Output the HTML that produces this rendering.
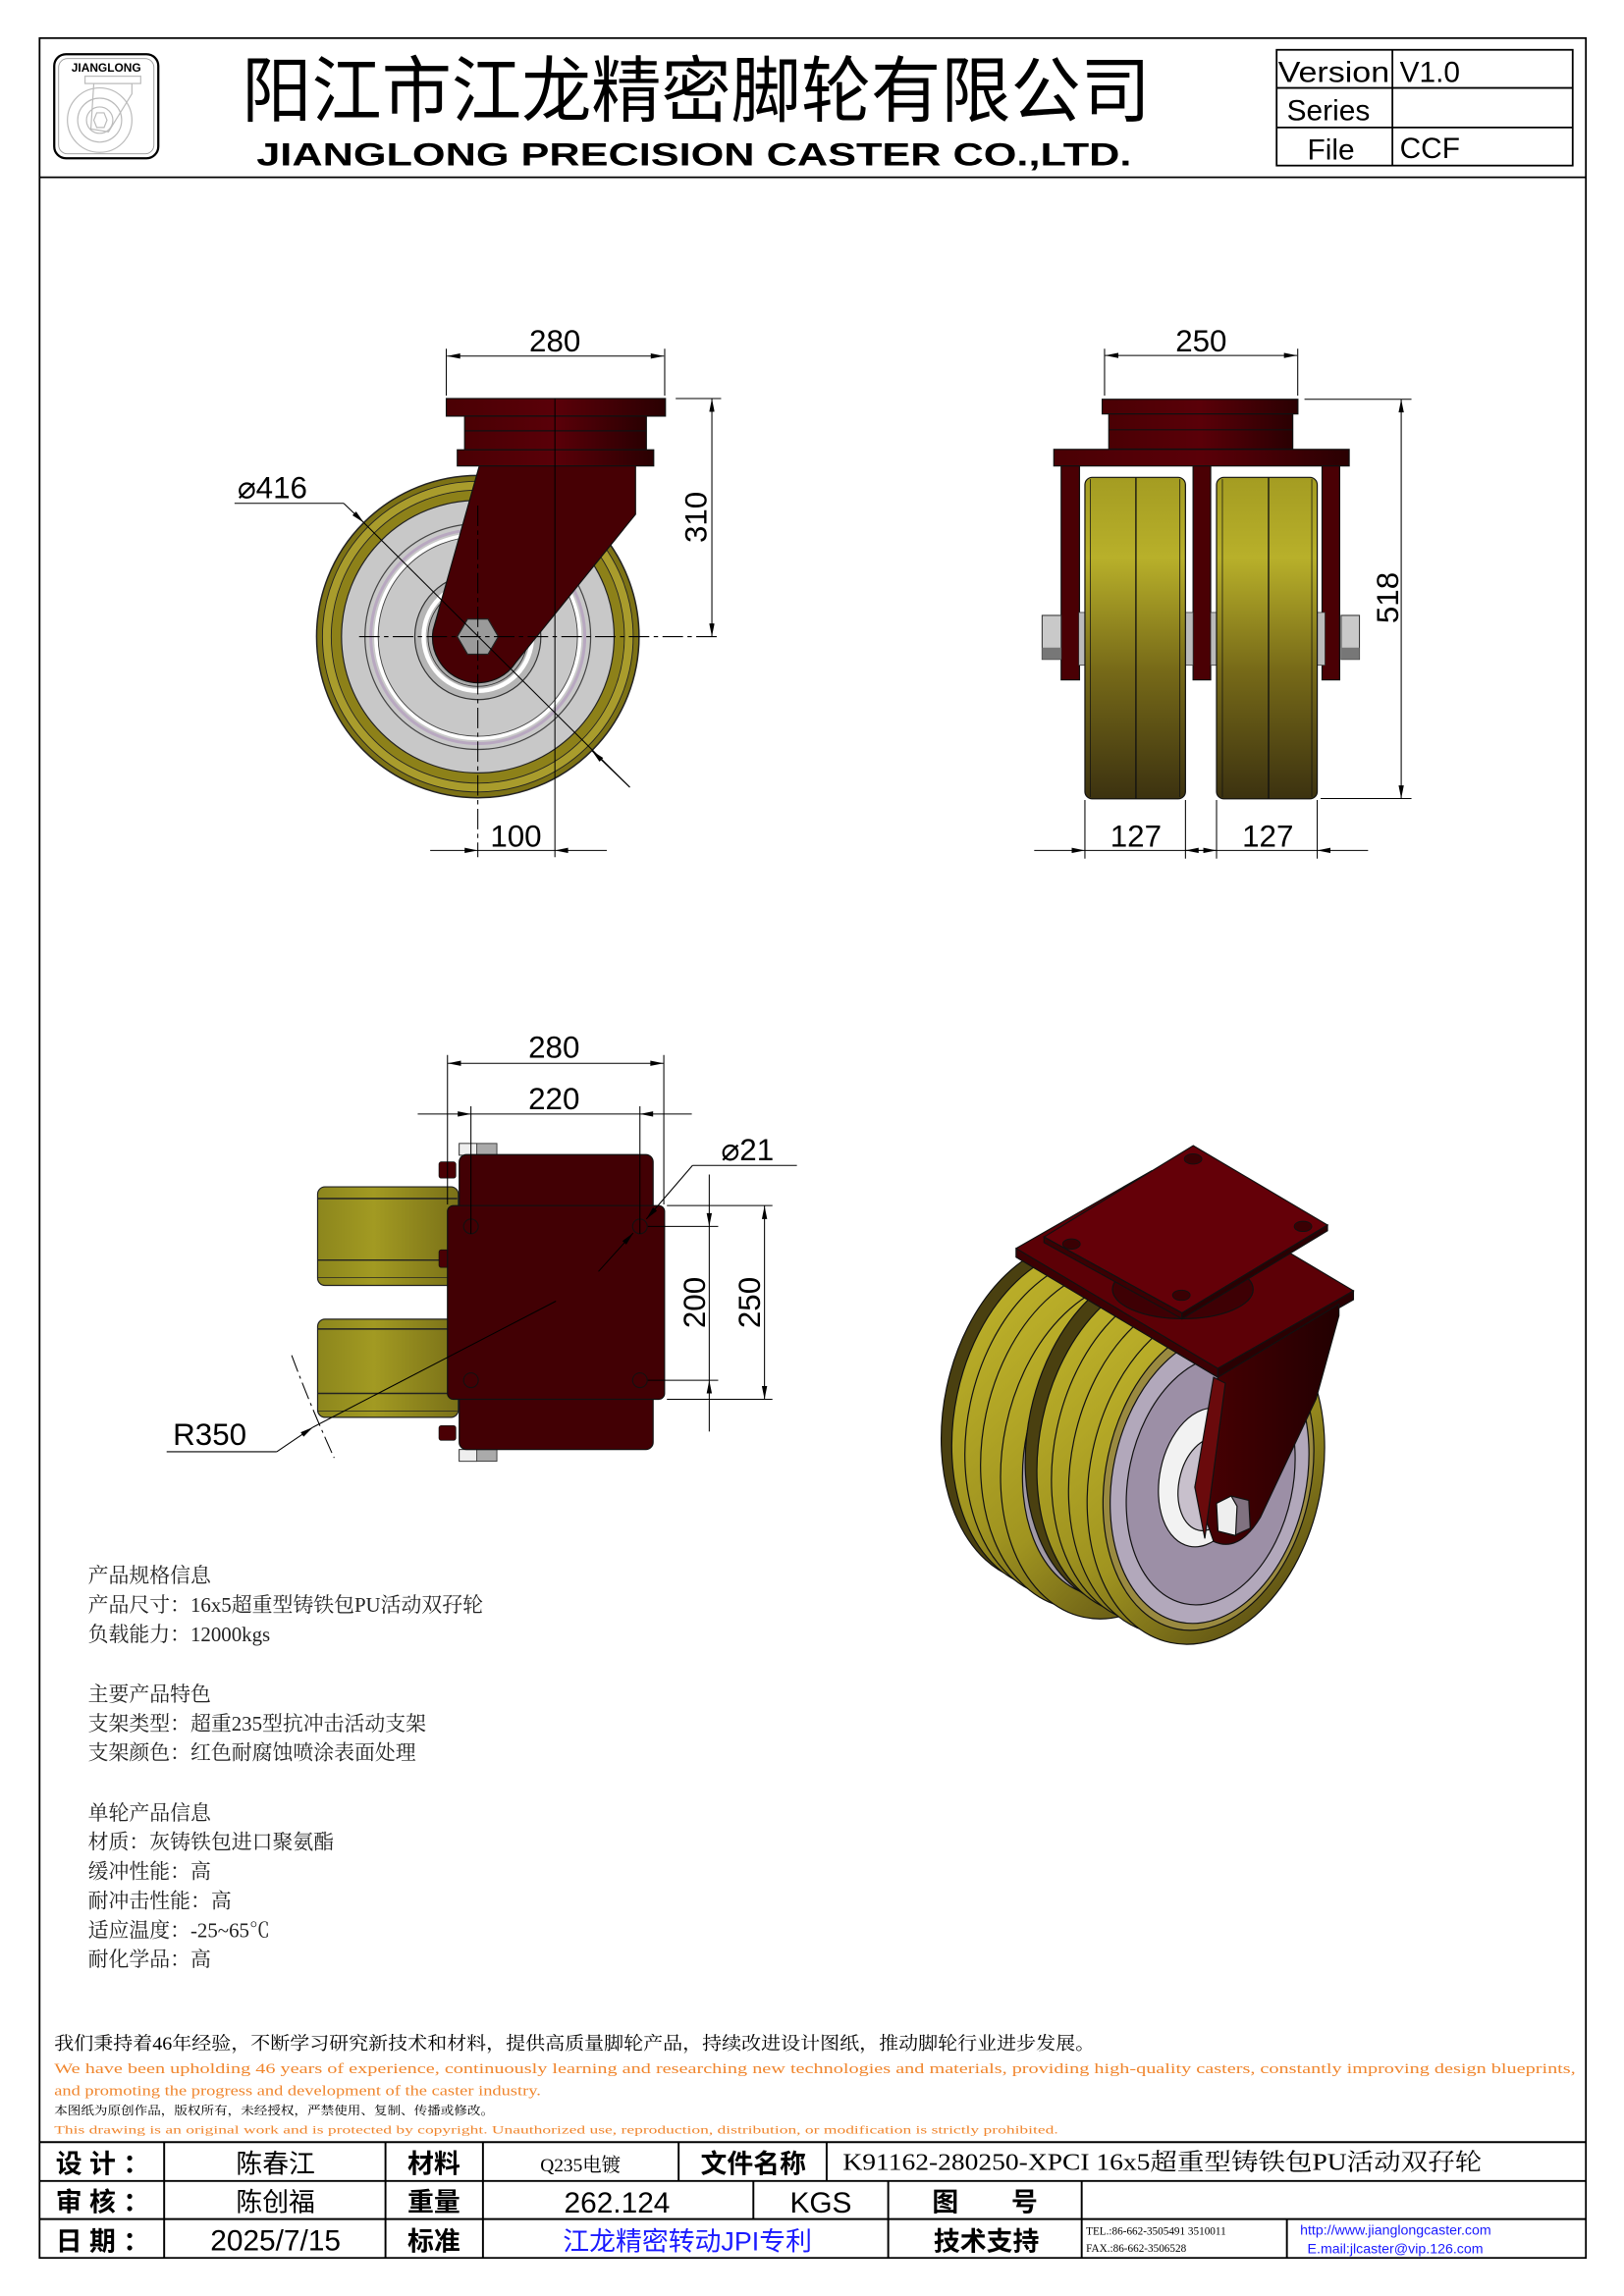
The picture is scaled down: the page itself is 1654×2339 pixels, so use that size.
<!DOCTYPE html>
<html><head><meta charset="utf-8"><style>
html,body{margin:0;padding:0;background:#fff}
svg{display:block}
</style></head><body>
<svg width="1654" height="2339" viewBox="0 0 1108 1567" preserveAspectRatio="none" xmlns="http://www.w3.org/2000/svg" font-family="Liberation Sans, Noto Sans CJK SC, sans-serif">
<defs>
<marker id="a" viewBox="0 0 10 4" refX="10" refY="2" markerWidth="10" markerHeight="3.6" markerUnits="userSpaceOnUse" orient="auto-start-reverse"><path d="M0,0L10,2L0,4z" fill="#000"/></marker>
<linearGradient id="yv" x1="0" y1="0" x2="0" y2="1"><stop offset="0" stop-color="#a49c22"/><stop offset="0.25" stop-color="#b8b02a"/><stop offset="0.6" stop-color="#776a18"/><stop offset="1" stop-color="#3c3210"/></linearGradient>
<linearGradient id="yh" x1="0" y1="0" x2="1" y2="0"><stop offset="0" stop-color="#8c861d"/><stop offset="0.4" stop-color="#a29a22"/><stop offset="1" stop-color="#7a7118"/></linearGradient>
<linearGradient id="rh" x1="0" y1="0" x2="1" y2="0"><stop offset="0" stop-color="#4a0004"/><stop offset="0.5" stop-color="#5a0008"/><stop offset="1" stop-color="#2a0002"/></linearGradient>
<linearGradient id="yi" x1="0" y1="0" x2="1" y2="1"><stop offset="0" stop-color="#c4b82c"/><stop offset="0.5" stop-color="#a09420"/><stop offset="1" stop-color="#4a3e10"/></linearGradient>
<linearGradient id="fk" x1="0" y1="0" x2="1" y2="0"><stop offset="0" stop-color="#4a0003"/><stop offset="1" stop-color="#220001"/></linearGradient>
</defs>

<!-- frame -->
<rect x="27" y="26" width="1055" height="1515" fill="none" stroke="#000" stroke-width="1.2"/>
<line x1="27" y1="121" x2="1082" y2="121" stroke="#000" stroke-width="1.2"/>

<!-- logo -->
<rect x="37" y="37" width="71" height="71" rx="8" fill="none" stroke="#000" stroke-width="1.5"/>
<rect x="40" y="40" width="65" height="65" rx="6" fill="none" stroke="#999" stroke-width="0.6"/>
<text x="72.5" y="49" font-size="8" font-weight="bold" text-anchor="middle">JIANGLONG</text>
<g fill="none" stroke="#bbb" stroke-width="0.8">
<rect x="58" y="52" width="38" height="5"/>
<circle cx="68" cy="82" r="22"/><circle cx="68" cy="82" r="15"/><circle cx="68" cy="82" r="9"/>
<path d="M64,57 L90,57 L90,64 L74,90 L62,88 Z"/>
<polygon points="66,77 71,77 73,82 71,87 66,87 64,82"/>
</g>

<!-- title -->
<text x="165" y="79" font-size="49" textLength="620" lengthAdjust="spacingAndGlyphs" font-family="Liberation Sans, Noto Sans CJK SC, sans-serif">阳江市江龙精密脚轮有限公司</text>
<text x="175" y="113" font-size="22" font-weight="bold" textLength="597" lengthAdjust="spacingAndGlyphs">JIANGLONG PRECISION CASTER CO.,LTD.</text>

<!-- version table -->
<g stroke="#000" stroke-width="1.2" fill="none">
<rect x="871" y="34" width="202" height="79"/>
<line x1="871" y1="60" x2="1073" y2="60"/>
<line x1="871" y1="87" x2="1073" y2="87"/>
<line x1="950" y1="34" x2="950" y2="113"/>
</g>
<g font-size="20">
<text x="872" y="56" textLength="76" lengthAdjust="spacingAndGlyphs">Version</text>
<text x="955" y="56">V1.0</text>
<text x="878" y="82">Series</text>
<text x="892" y="109">File</text>
<text x="955" y="108">CCF</text>
</g>

<!-- ===== Front view ===== -->
<g>
<circle cx="326" cy="434.5" r="110" fill="#7d7215" stroke="#222" stroke-width="1"/>
<circle cx="326" cy="434.5" r="106" fill="#a99c2c" stroke="#222" stroke-width="0.6"/>
<circle cx="326" cy="434.5" r="100" fill="#8d8119" stroke="#222" stroke-width="0.6"/>
<circle cx="326" cy="434.5" r="93" fill="#c8c8c8" stroke="#222" stroke-width="0.8"/>
<circle cx="326" cy="434.5" r="77" fill="none" stroke="#444" stroke-width="0.8"/>
<circle cx="326" cy="434.5" r="73" fill="none" stroke="#b8a8c0" stroke-width="2"/>
<circle cx="326" cy="434.5" r="69.5" fill="none" stroke="#fff" stroke-width="2.5"/>
<circle cx="326" cy="434.5" r="68" fill="none" stroke="#444" stroke-width="0.6"/>
<circle cx="326" cy="434.5" r="43" fill="#b5b5b5" stroke="#333" stroke-width="0.8"/>
<circle cx="326" cy="434.5" r="37" fill="none" stroke="#fff" stroke-width="3"/>
<circle cx="326" cy="434.5" r="34" fill="#aaa" stroke="#333" stroke-width="0.6"/>
<!-- plates -->
<rect x="304.5" y="272" width="149.5" height="12" fill="url(#rh)" stroke="#111" stroke-width="0.8"/>
<rect x="317" y="284" width="124" height="23" fill="url(#rh)" stroke="#111" stroke-width="0.8"/>
<line x1="317" y1="294" x2="441" y2="294" stroke="#111" stroke-width="0.8"/>
<rect x="312" y="307" width="134" height="11" fill="url(#rh)" stroke="#111" stroke-width="0.8"/>
<path d="M327,318 L433.6,318 L433.6,351 L352,452 A31,31 0 0 1 295.5,430 Z" fill="#470004" stroke="#111" stroke-width="0.8"/>
<polygon points="319,422.5 333,422.5 340,434.5 333,446.5 319,446.5 312,434.5" fill="#9a9a9a" stroke="#222" stroke-width="0.8"/>
<!-- centerlines -->
<g stroke="#000" stroke-width="0.7">
<line x1="245" y1="434.5" x2="490" y2="434.5" stroke-dasharray="14,3,3,3"/>
<line x1="326" y1="345" x2="326" y2="585" stroke-dasharray="14,3,3,3"/>
<line x1="378.6" y1="272" x2="378.6" y2="585"/>
<line x1="304.5" y1="238" x2="304.5" y2="270"/>
<line x1="453.5" y1="238" x2="453.5" y2="270"/>
<line x1="305" y1="243" x2="453" y2="243" marker-start="url(#a)" marker-end="url(#a)"/>
<line x1="461" y1="272" x2="492" y2="272"/>
<line x1="485.7" y1="272" x2="485.7" y2="434.5" marker-start="url(#a)" marker-end="url(#a)"/>
<line x1="293.5" y1="580.4" x2="326" y2="580.4" marker-end="url(#a)"/>
<line x1="414" y1="580.4" x2="378.6" y2="580.4" marker-end="url(#a)"/>
<line x1="326" y1="580.4" x2="378.6" y2="580.4"/>
<line x1="160" y1="343.5" x2="234.5" y2="343.5"/>
<line x1="234.5" y1="343.5" x2="248.2" y2="356.7" marker-end="url(#a)"/>
<line x1="248" y1="356.5" x2="429.7" y2="537.3"/>
<line x1="429.7" y1="537.3" x2="403.8" y2="512.3" marker-end="url(#a)"/>
</g>
<text x="378.6" y="240" font-size="21" text-anchor="middle">280</text>
<text transform="translate(482,353) rotate(-90)" font-size="21" text-anchor="middle">310</text>
<text x="352" y="578" font-size="21" text-anchor="middle">100</text>
<text x="162" y="340" font-size="21">⌀416</text>
</g>

<!-- ===== Side view ===== -->
<g>
<rect x="752" y="272.5" width="133.5" height="10" fill="url(#rh)" stroke="#111" stroke-width="0.8"/>
<rect x="756.5" y="282.5" width="125.5" height="24" fill="url(#rh)" stroke="#111" stroke-width="0.8"/>
<line x1="756.5" y1="293.3" x2="882" y2="293.3" stroke="#111" stroke-width="0.8"/>
<rect x="719" y="306.7" width="201.5" height="11.3" fill="url(#rh)" stroke="#111" stroke-width="0.8"/>
<rect x="724" y="318" width="12.5" height="146" fill="#4a0004" stroke="#111" stroke-width="0.8"/>
<rect x="814" y="318" width="12" height="146" fill="#4a0004" stroke="#111" stroke-width="0.8"/>
<rect x="902" y="318" width="12" height="146" fill="#4a0004" stroke="#111" stroke-width="0.8"/>
<rect x="736" y="418" width="6" height="36" fill="#bbb" stroke="#333" stroke-width="0.5"/>
<rect x="898" y="418" width="6" height="36" fill="#bbb" stroke="#333" stroke-width="0.5"/>
<rect x="808" y="418" width="6" height="36" fill="#bbb" stroke="#333" stroke-width="0.5"/>
<rect x="826" y="418" width="5" height="36" fill="#bbb" stroke="#333" stroke-width="0.5"/>
<rect x="740.2" y="325.8" width="68.6" height="219.4" rx="5" fill="url(#yv)" stroke="#111" stroke-width="0.8"/>
<rect x="830" y="325.8" width="68.7" height="219.4" rx="5" fill="url(#yv)" stroke="#111" stroke-width="0.8"/>
<g stroke="#111" stroke-width="0.9">
<line x1="775" y1="326" x2="775" y2="545"/><line x1="865.5" y1="326" x2="865.5" y2="545"/>
<line x1="744" y1="327" x2="744" y2="544" stroke-width="0.5"/><line x1="805" y1="327" x2="805" y2="544" stroke-width="0.5"/>
<line x1="834" y1="327" x2="834" y2="544" stroke-width="0.5"/><line x1="895" y1="327" x2="895" y2="544" stroke-width="0.5"/>
</g>
<rect x="711" y="420" width="13" height="30" fill="#c9c9c9" stroke="#333" stroke-width="0.7"/>
<rect x="711" y="442" width="13" height="8" fill="#777"/>
<rect x="915" y="420" width="12.5" height="30" fill="#c9c9c9" stroke="#333" stroke-width="0.7"/>
<rect x="915" y="442" width="12.5" height="8" fill="#777"/>
<g stroke="#000" stroke-width="0.7">
<line x1="753.6" y1="238" x2="753.6" y2="270"/>
<line x1="885.4" y1="238" x2="885.4" y2="270"/>
<line x1="754" y1="242.6" x2="885" y2="242.6" marker-start="url(#a)" marker-end="url(#a)"/>
<line x1="890" y1="272.5" x2="963" y2="272.5"/>
<line x1="901" y1="545" x2="963" y2="545"/>
<line x1="956" y1="272.5" x2="956" y2="545" marker-start="url(#a)" marker-end="url(#a)"/>
<line x1="740.2" y1="546" x2="740.2" y2="586"/>
<line x1="808.8" y1="546" x2="808.8" y2="586"/>
<line x1="830" y1="546" x2="830" y2="586"/>
<line x1="898.7" y1="546" x2="898.7" y2="586"/>
<line x1="705.6" y1="580.4" x2="740.2" y2="580.4" marker-end="url(#a)"/>
<line x1="740.2" y1="580.4" x2="830" y2="580.4"/>
<line x1="819.4" y1="580.4" x2="808.8" y2="580.4" marker-end="url(#a)"/>
<line x1="819.4" y1="580.4" x2="830" y2="580.4" marker-end="url(#a)"/>
<line x1="830" y1="580.4" x2="898.7" y2="580.4"/>
<line x1="933.4" y1="580.4" x2="898.7" y2="580.4" marker-end="url(#a)"/>
</g>
<text x="819.5" y="240" font-size="21" text-anchor="middle">250</text>
<text transform="translate(954,408) rotate(-90)" font-size="21" text-anchor="middle">518</text>
<text x="775" y="578" font-size="21" text-anchor="middle">127</text>
<text x="865" y="578" font-size="21" text-anchor="middle">127</text>
</g>

<!-- ===== Top view ===== -->
<g>
<rect x="216.7" y="810" width="96" height="67.3" rx="5" fill="url(#yh)" stroke="#222" stroke-width="0.8"/>
<rect x="216.7" y="900.3" width="96" height="67" rx="5" fill="url(#yh)" stroke="#222" stroke-width="0.8"/>
<g stroke="#222" stroke-width="1">
<line x1="217" y1="818" x2="312" y2="818"/><line x1="217" y1="860" x2="312" y2="860"/><line x1="217" y1="872" x2="312" y2="872" stroke-width="0.5"/>
<line x1="217" y1="907" x2="312" y2="907"/><line x1="217" y1="951" x2="312" y2="951"/><line x1="217" y1="963" x2="312" y2="963" stroke-width="0.5"/>
</g>
<rect x="299.5" y="793" width="11.5" height="11" rx="1.5" fill="#4a0004" stroke="#111" stroke-width="0.5"/>
<rect x="299.5" y="853" width="11.5" height="12" rx="1.5" fill="#4a0004" stroke="#111" stroke-width="0.5"/>
<rect x="299.5" y="973" width="11.5" height="10" rx="1.5" fill="#4a0004" stroke="#111" stroke-width="0.5"/>
<rect x="313.3" y="780.4" width="25.7" height="8" fill="#aaa" stroke="#333" stroke-width="0.6"/>
<rect x="313.3" y="989.3" width="25.7" height="8" fill="#aaa" stroke="#333" stroke-width="0.6"/>
<rect x="313.3" y="780.4" width="12" height="8" fill="#eee" stroke="#333" stroke-width="0.6"/>
<rect x="313.3" y="989.3" width="12" height="8" fill="#eee" stroke="#333" stroke-width="0.6"/>
<rect x="313.3" y="788" width="132.3" height="201.3" rx="5" fill="#420004" stroke="#111" stroke-width="0.8"/>
<rect x="305.3" y="822.8" width="148.1" height="132.2" rx="4" fill="#420004" stroke="#111" stroke-width="0.8"/>
<g fill="none" stroke="#111" stroke-width="0.7">
<circle cx="321.3" cy="837" r="5"/><circle cx="436.6" cy="837" r="5"/><circle cx="321.3" cy="942" r="5"/><circle cx="436.6" cy="942" r="5"/>
</g>
<g stroke="#000" stroke-width="0.7">
<line x1="305.3" y1="720" x2="305.3" y2="822"/>
<line x1="452.9" y1="720" x2="452.9" y2="822"/>
<line x1="321.3" y1="755" x2="321.3" y2="842"/>
<line x1="436.6" y1="755" x2="436.6" y2="842"/>
<line x1="305.5" y1="725.7" x2="452.7" y2="725.7" marker-start="url(#a)" marker-end="url(#a)"/>
<line x1="285" y1="760.3" x2="321.3" y2="760.3" marker-end="url(#a)"/>
<line x1="472" y1="760.3" x2="436.6" y2="760.3" marker-end="url(#a)"/>
<line x1="321.3" y1="760.3" x2="436.6" y2="760.3"/>
<line x1="472.5" y1="795.4" x2="441" y2="832" marker-end="url(#a)"/>
<line x1="408.3" y1="867.8" x2="432" y2="841.5" marker-end="url(#a)"/>
<line x1="472.5" y1="795.4" x2="543.7" y2="795.4"/>
<line x1="442" y1="837" x2="490" y2="837"/>
<line x1="442" y1="942" x2="490" y2="942"/>
<line x1="483.9" y1="801.6" x2="483.9" y2="837" marker-end="url(#a)"/>
<line x1="483.9" y1="977" x2="483.9" y2="942" marker-end="url(#a)"/>
<line x1="483.9" y1="837" x2="483.9" y2="942"/>
<line x1="455" y1="822.8" x2="527" y2="822.8"/>
<line x1="455" y1="955" x2="527" y2="955"/>
<line x1="521.6" y1="823" x2="521.6" y2="955" marker-start="url(#a)" marker-end="url(#a)"/>
<line x1="113.7" y1="990.8" x2="188.8" y2="990.8"/>
<line x1="188.8" y1="990.8" x2="213.6" y2="974" marker-end="url(#a)"/>
<line x1="213.6" y1="974" x2="379.3" y2="888"/>
<path d="M199,925 Q212,960 228,995" fill="none" stroke-dasharray="12,3,2,3"/>
</g>
<text x="378" y="722" font-size="21" text-anchor="middle">280</text>
<text x="378" y="757" font-size="21" text-anchor="middle">220</text>
<text x="492" y="792" font-size="21">⌀21</text>
<text transform="translate(481,889) rotate(-90)" font-size="21" text-anchor="middle">200</text>
<text transform="translate(518.5,889) rotate(-90)" font-size="21" text-anchor="middle">250</text>
<text x="118" y="986" font-size="21">R350</text>
</g>

<!-- ===== Isometric ===== -->
<g stroke="#111" stroke-width="0.8">
<!-- back wheel -->
<g transform="rotate(12 735 975)">
<ellipse cx="722" cy="966" rx="80" ry="118" fill="#4a4010"/>
<ellipse cx="730" cy="969" rx="80" ry="118" fill="url(#yi)"/>
<ellipse cx="740" cy="973" rx="80" ry="118" fill="url(#yi)"/>
<ellipse cx="752" cy="978" rx="80" ry="118" fill="url(#yi)"/>
<ellipse cx="766" cy="983" rx="79" ry="117" fill="url(#yi)"/>
<ellipse cx="768" cy="984" rx="66" ry="100" fill="#a29aa8"/>
<ellipse cx="771" cy="985" rx="55" ry="86" fill="#8e8296"/>
</g>
<!-- front wheel -->
<g transform="rotate(12 820 1005)">
<ellipse cx="777" cy="988" rx="80" ry="118" fill="#4a4010"/>
<ellipse cx="786" cy="992" rx="80" ry="118" fill="url(#yi)"/>
<ellipse cx="797" cy="996" rx="80" ry="118" fill="url(#yi)"/>
<ellipse cx="810" cy="1001" rx="80" ry="118" fill="url(#yi)"/>
<ellipse cx="823" cy="1006" rx="79" ry="117" fill="url(#yi)"/>
<ellipse cx="825" cy="1007" rx="70" ry="106" fill="#9a8a40"/>
<ellipse cx="826" cy="1008" rx="66" ry="100" fill="#b2a8bb"/>
<ellipse cx="827" cy="1009" rx="56" ry="86" fill="#9c8fa6"/>
<ellipse cx="822" cy="1008" rx="30" ry="48" fill="#f2f2f2"/>
<ellipse cx="826" cy="1012" rx="20" ry="32" fill="#c8c0cc"/>
</g>
<!-- plates -->
<polygon points="693.3,852 785.8,799 923.4,881 830.9,934 830.9,940 693.3,858" fill="#5c0006"/>
<polygon points="693.3,852 830.9,934 830.9,940 693.3,858" fill="#3c0003"/>
<polygon points="830.9,934 923.4,881 923.4,887 830.9,940" fill="#2a0002"/>
<ellipse cx="807" cy="880" rx="48" ry="20" fill="#3e0004"/>
<polygon points="712.3,844.2 814.1,781.9 905.7,836.1 806.4,896.1" fill="#640008"/>
<polygon points="712.3,844.2 806.4,896.1 806.4,900 712.3,848" fill="#3c0003"/>
<polygon points="806.4,896.1 905.7,836.1 905.7,840 806.4,900" fill="#2a0002"/>
<g fill="#3a0003" stroke-width="0.6">
<ellipse cx="814" cy="791" rx="6" ry="3.5"/><ellipse cx="889" cy="837" rx="6" ry="3.5"/>
<ellipse cx="731" cy="849" rx="6" ry="3.5"/><ellipse cx="806" cy="884" rx="6" ry="3.5"/>
</g>
<!-- fork -->
<path d="M830.9,940 L913.5,890 L913.5,898 L897.9,954.8 L859.9,1035.6 Q845,1060 828,1052 L815.2,1015 Z" fill="url(#fk)"/>
<path d="M828,940 L836,944 L822,1050 L815.2,1015 Z" fill="#6a0a0c"/>
<!-- bolt -->
<polygon points="830,1026 840,1021 852,1024 853,1043 842,1048 831,1045" fill="#807280"/>
<polygon points="830,1026 840,1021 844,1028 843,1048 831,1045" fill="#eee"/>
</g>

<!-- spec text -->
<g font-family="Liberation Serif, Noto Serif CJK SC, serif" font-size="14" fill="#222">
<text x="60" y="1080">产品规格信息</text>
<text x="60" y="1100">产品尺寸：16x5超重型铸铁包PU活动双孖轮</text>
<text x="60" y="1120">负载能力：12000kgs</text>
<text x="60" y="1161">主要产品特色</text>
<text x="60" y="1181">支架类型：超重235型抗冲击活动支架</text>
<text x="60" y="1201">支架颜色：红色耐腐蚀喷涂表面处理</text>
<text x="60" y="1242">单轮产品信息</text>
<text x="60" y="1262">材质：灰铸铁包进口聚氨酯</text>
<text x="60" y="1282">缓冲性能：高</text>
<text x="60" y="1302">耐冲击性能：高</text>
<text x="60" y="1322">适应温度：-25~65℃</text>
<text x="60" y="1342">耐化学品：高</text>
</g>

<!-- notes -->
<g font-family="Liberation Serif, Noto Serif CJK SC, serif">
<text x="37" y="1399" font-size="12.5" textLength="710" lengthAdjust="spacingAndGlyphs">我们秉持着46年经验，不断学习研究新技术和材料，提供高质量脚轮产品，持续改进设计图纸，推动脚轮行业进步发展。</text>
<text x="37" y="1415" font-size="10" fill="#f0862e" textLength="1038" lengthAdjust="spacingAndGlyphs">We have been upholding 46 years of experience, continuously learning and researching new technologies and materials, providing high-quality casters, constantly improving design blueprints,</text>
<text x="37" y="1430" font-size="10" fill="#f0862e" textLength="332" lengthAdjust="spacingAndGlyphs">and promoting the progress and development of the caster industry.</text>
<text x="37" y="1443" font-size="8" textLength="300" lengthAdjust="spacingAndGlyphs">本图纸为原创作品，版权所有，未经授权，严禁使用、复制、传播或修改。</text>
<text x="37" y="1456" font-size="8" fill="#f0862e" textLength="685" lengthAdjust="spacingAndGlyphs">This drawing is an original work and is protected by copyright. Unauthorized use, reproduction, distribution, or modification is strictly prohibited.</text>
</g>

<!-- bottom table -->
<g stroke="#000" stroke-width="1.3" fill="none">
<line x1="27" y1="1462" x2="1082" y2="1462"/>
<line x1="27" y1="1488.5" x2="1082" y2="1488.5"/>
<line x1="27" y1="1514.5" x2="1082" y2="1514.5"/>
<line x1="112" y1="1462" x2="112" y2="1541"/>
<line x1="263" y1="1462" x2="263" y2="1541"/>
<line x1="329.5" y1="1462" x2="329.5" y2="1541"/>
<line x1="463" y1="1462" x2="463" y2="1488.5"/>
<line x1="564" y1="1462" x2="564" y2="1488.5"/>
<line x1="514" y1="1488.5" x2="514" y2="1514.5"/>
<line x1="606" y1="1488.5" x2="606" y2="1541"/>
<line x1="738" y1="1488.5" x2="738" y2="1541"/>
<line x1="878" y1="1514.5" x2="878" y2="1541"/>
</g>
<g font-size="18" font-weight="bold">
<text x="38" y="1483">设 计 ：</text>
<text x="38" y="1509">审 核 ：</text>
<text x="38" y="1536">日 期 ：</text>
<text x="296" y="1483" text-anchor="middle">材料</text>
<text x="296" y="1509" text-anchor="middle">重量</text>
<text x="296" y="1536" text-anchor="middle">标准</text>
<text x="514" y="1483" text-anchor="middle">文件名称</text>
<text x="672" y="1509" text-anchor="middle">图　　号</text>
<text x="673" y="1536" text-anchor="middle">技术支持</text>
</g>
<g font-size="18">
<text x="188" y="1483" text-anchor="middle">陈春江</text>
<text x="188" y="1509" text-anchor="middle">陈创福</text>
<text x="188" y="1536" text-anchor="middle" font-size="20">2025/7/15</text>
<text x="421" y="1510" text-anchor="middle" font-size="20">262.124</text>
<text x="560" y="1510" text-anchor="middle" font-size="20">KGS</text>
<text x="469" y="1536" text-anchor="middle" fill="#1a1aff">江龙精密转动JPI专利</text>
</g>
<text x="396" y="1482" text-anchor="middle" font-size="13" font-family="Liberation Serif, Noto Serif CJK SC, serif">Q235电镀</text>
<text x="575" y="1481" font-size="16" font-family="Liberation Serif, Noto Serif CJK SC, serif" textLength="436" lengthAdjust="spacingAndGlyphs">K91162-280250-XPCI 16x5超重型铸铁包PU活动双孖轮</text>
<text x="741" y="1525" font-size="7.5" font-family="Liberation Serif, serif">TEL.:86-662-3505491 3510011</text>
<text x="741" y="1537" font-size="7.5" font-family="Liberation Serif, serif">FAX.:86-662-3506528</text>
<text x="887" y="1525" font-size="9.5" fill="#1a1aff">http://www.jianglongcaster.com</text>
<text x="892" y="1538" font-size="9.5" fill="#1a1aff">E.mail:jlcaster@vip.126.com</text>
</svg>
</body></html>
